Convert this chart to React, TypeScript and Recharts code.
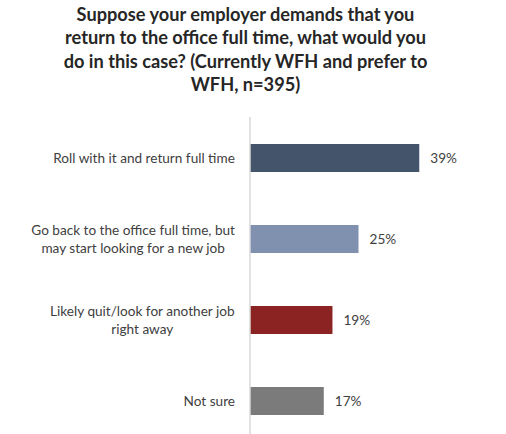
import React from "react";
import { BarChart, Bar, XAxis, YAxis, Cell, LabelList } from "recharts";

const titleLines = [
    "Suppose your employer demands that you",
    "return to the office full time, what would you",
    "do in this case? (Currently WFH and prefer to",
    "WFH, n=395)",
];

const categories = [
    "Roll with it and return full time",
    "Go back to the office full time, but\nmay start looking for a new job",
    "Likely quit/look for another job\nright away",
    "Not sure",
];

const shares = [39, 25, 19, 17];

const barColors = ["#44546A", "#7F91AF", "#8B2323", "#7B7B7B"];

const data = categories.map((name, i) => ({ name, value: shares[i] }));

const FONT = "Lato";
const LABEL_SIZE = 13.6;

let ctx: CanvasRenderingContext2D | null = null;
const measure = (s: string) => {
    if (!ctx) ctx = document.createElement("canvas").getContext("2d");
    if (!ctx) return s.length * 6;
    ctx.font = `${LABEL_SIZE}px ${FONT}`;
    return ctx.measureText(s).width;
};

// labels are right-aligned as a block, lines centred inside the block
const CategoryTick = ({ x, y, payload }: any) => {
    const lines = String(payload.value).split("\n");
    const w = Math.max(...lines.map(measure));
    const cx = x - w / 2;
    const lh = 18;
    const y0 = y - ((lines.length - 1) * lh) / 2;
    return (
        <text
            textAnchor="middle"
            fontFamily={FONT}
            fontSize={LABEL_SIZE}
            fill="#404040"
            dominantBaseline="central"
        >
            {lines.map((l, i) => (
                <tspan key={i} x={cx} y={y0 + i * lh}>
                    {l}
                </tspan>
            ))}
        </text>
    );
};

export default function App() {
    return (
        <div
            style={{
                position: "absolute",
                left: 0,
                top: 0,
                width: 506,
                height: 434,
                overflow: "hidden",
                background: "#fff",
            }}
        >
            <div
                style={{
                    position: "absolute",
                    left: 0,
                    top: 3,
                    width: 491,
                    textAlign: "center",
                    fontFamily: FONT,
                    fontWeight: 700,
                    fontSize: 18.2,
                    lineHeight: "23.3px",
                    color: "#262626",
                }}
            >
                {titleLines.map((t, i) => (
                    <div key={i}>{t}</div>
                ))}
            </div>
            <BarChart
                layout="vertical"
                width={506}
                height={460}
                data={data}
                margin={{ top: 117, right: 39, bottom: 19, left: 0 }}
                style={{ position: "absolute", left: 0, top: 0 }}
            >
                <XAxis type="number" domain={[0, 50]} hide />
                <YAxis
                    type="category"
                    dataKey="name"
                    width={250}
                    tickLine={false}
                    tickSize={0}
                    tickMargin={15}
                    axisLine={{ stroke: "#D9D9D9", strokeWidth: 1.5 }}
                    tick={<CategoryTick />}
                    interval={0}
                />
                <Bar dataKey="value" barSize={28} isAnimationActive={false}>
                    {data.map((d, i) => (
                        <Cell key={d.name} fill={barColors[i]} />
                    ))}
                    <LabelList
                        dataKey="value"
                        position="right"
                        offset={11}
                        formatter={(v: any) => `${v}%`}
                        fill="#404040"
                        fontFamily={FONT}
                        fontSize={13.6}
                    />
                </Bar>
            </BarChart>
        </div>
    );
}
